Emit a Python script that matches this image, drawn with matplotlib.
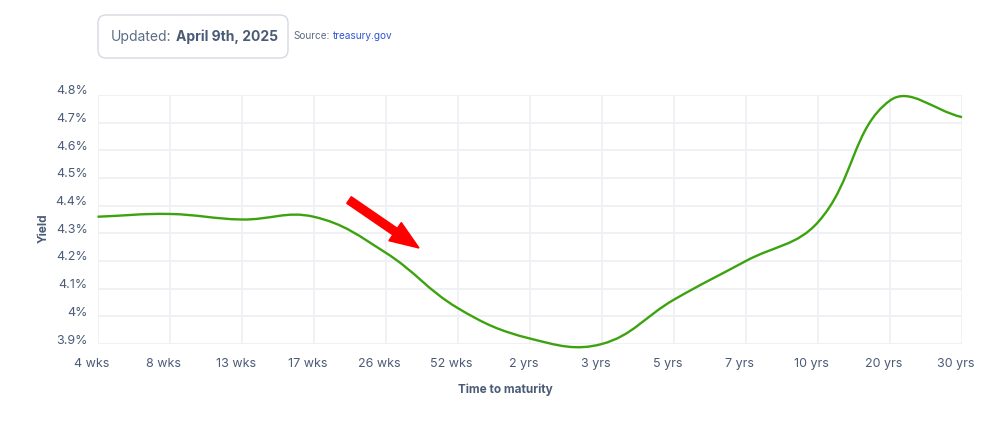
import numpy as np
import matplotlib.pyplot as plt
from matplotlib.path import Path
from matplotlib.patches import PathPatch, FancyBboxPatch, FancyArrow
import matplotlib.transforms as mtransforms

plt.rcParams['font.family'] = ['Inter', 'DejaVu Sans']

# ---- data ----
maturities = ['4 wks', '8 wks', '13 wks', '17 wks', '26 wks', '52 wks', '2 yrs',
              '3 yrs', '5 yrs', '7 yrs', '10 yrs', '20 yrs', '30 yrs']
yields = [4.36, 4.37, 4.35, 4.36, 4.23, 4.03, 3.92, 3.90, 4.06, 4.20, 4.34, 4.78, 4.72]
y_ticks = [3.9, 4.0, 4.1, 4.2, 4.3, 4.4, 4.5, 4.6, 4.7, 4.8]
y_tick_labels = ['3.9%', '4%', '4.1%', '4.2%', '4.3%', '4.4%', '4.5%', '4.6%', '4.7%', '4.8%']

W, H = 1006, 438
text_col = '#4b5b76'
grid_col = '#eef0f3'
line_col = '#3ca30e'

fig = plt.figure(figsize=(W / 100, H / 100), dpi=100)
ax = fig.add_axes([97.5 / W, (H - 344) / H, (962 - 97.5) / W, (344 - 95) / H])
x = np.arange(len(maturities))
ax.set_xlim(0, len(maturities) - 1)
ax.set_ylim(3.9, 4.8)

ax.set_xticks(x, maturities)
ax.set_yticks(y_ticks, y_tick_labels)
ax.grid(True, color=grid_col, linewidth=1.3)
ax.set_axisbelow(True)
for s in ax.spines.values():
    s.set_visible(False)
ax.tick_params(length=0, labelsize=9, labelcolor=text_col)
ax.tick_params(axis='y', pad=7)
ax.tick_params(axis='x', pad=10)

# nudge tick labels like the original
for lab in ax.get_yticklabels():
    lab.set_transform(lab.get_transform() + mtransforms.ScaledTranslation(0, 0.05, fig.dpi_scale_trans))
for lab in ax.get_xticklabels():
    lab.set_transform(lab.get_transform() + mtransforms.ScaledTranslation(-0.06, 0, fig.dpi_scale_trans))


# smooth line (bezier spline through the points, done in pixel space)
def spline_path(xs, ys, tension=0.4):
    pts = ax.transData.transform(np.column_stack([xs, ys]))
    n = len(pts)
    prev_cp, next_cp = [], []
    for i in range(n):
        p0 = pts[max(i - 1, 0)]
        p1 = pts[i]
        p2 = pts[min(i + 1, n - 1)]
        d01 = np.hypot(*(p1 - p0))
        d12 = np.hypot(*(p2 - p1))
        tot = d01 + d12
        s01 = d01 / tot if tot else 0
        s12 = d12 / tot if tot else 0
        prev_cp.append(p1 - tension * s01 * (p2 - p0))
        next_cp.append(p1 + tension * s12 * (p2 - p0))
    verts = [pts[0]]
    codes = [Path.MOVETO]
    for i in range(n - 1):
        verts += [next_cp[i], prev_cp[i + 1], pts[i + 1]]
        codes += [Path.CURVE4] * 3
    verts = ax.transData.inverted().transform(np.array(verts))
    return Path(verts, codes)


ax.add_patch(PathPatch(spline_path(x, yields), fill=False, edgecolor=line_col,
                       linewidth=1.7, clip_on=False, zorder=3))

# axis titles
fig.text(44 / W, (H - 228) / H, 'Yield', rotation=90, ha='center', va='center',
         fontsize=8.5, fontweight='bold', color=text_col)
fig.text(505 / W, (H - 390) / H, 'Time to maturity', ha='center', va='center',
         fontsize=8.5, fontweight='bold', color=text_col)

# header box
box = FancyBboxPatch((98, H - 58), 190, 43, boxstyle='round,pad=0,rounding_size=8',
                     facecolor='white', edgecolor='#d5d9e0', linewidth=1, transform=None)
fig.add_artist(box)
fig.text(111 / W, (H - 37) / H, 'Updated:', ha='left', va='center', fontsize=10,
         color='#5d6c84')
fig.text(176 / W, (H - 37) / H, 'April 9th, 2025', ha='left', va='center', fontsize=10,
         fontweight='bold', color=text_col)
fig.text(293 / W, (H - 36) / H, 'Source:', ha='left', va='center', fontsize=7.2,
         color='#5d6c84')
fig.text(333 / W, (H - 36) / H, 'treasury.gov', ha='left', va='center', fontsize=7.2,
         color='#2f55d4')

# red arrow
arrow = FancyArrow(349, H - 200, 70, -48, width=8, head_width=22, head_length=29,
                   length_includes_head=True, color='#ff0000', transform=None)
fig.add_artist(arrow)

plt.savefig('out.png', dpi=100)
